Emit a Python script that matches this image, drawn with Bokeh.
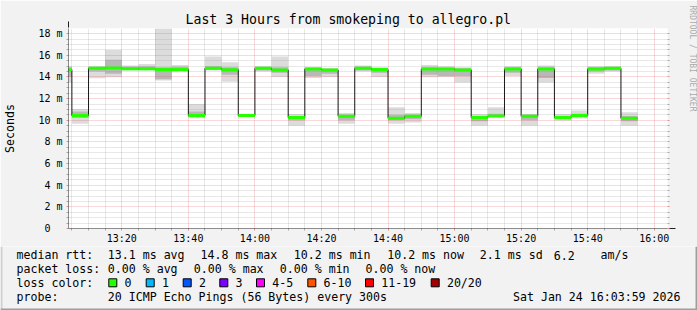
import math
from bokeh.plotting import figure
from bokeh.models import FixedTicker, Range1d, Label, Arrow, NormalHead, LinearAxis, Title
from bokeh.layouts import column
from bokeh.embed import file_html
from bokeh.resources import INLINE

MONO = "DejaVu Sans Mono"

# ---------------- data ----------------
slot_start = ["13:00", "13:05", "13:10", "13:15", "13:20", "13:25", "13:30", "13:35",
              "13:40", "13:45", "13:50", "13:55", "14:00", "14:05", "14:10", "14:15",
              "14:20", "14:25", "14:30", "14:35", "14:40", "14:45", "14:50", "14:55",
              "15:00", "15:05", "15:10", "15:15", "15:20", "15:25", "15:30", "15:35",
              "15:40", "15:45", "15:50"]
median_ms = [14.68, 10.43, 14.80, 14.83, 14.77, 14.77, 14.70, 14.70,
             10.43, 14.80, 14.68, 10.43, 14.80, 14.65, 10.25, 14.74,
             14.65, 10.37, 14.80, 14.70, 10.18, 10.37, 14.74, 14.74,
             14.65, 10.25, 10.40, 14.74, 10.37, 14.74, 10.25, 10.43,
             14.74, 14.80, 10.18]
smoke_lo = [13.50, 9.67, 13.88, 13.97, 14.60, 14.60, 13.67, 14.50,
            10.20, 14.60, 13.57, 10.35, 14.50, 14.00, 9.50, 13.90,
            14.00, 9.67, 14.50, 14.00, 9.67, 9.80, 13.97, 14.00,
            13.50, 9.50, 10.28, 14.10, 9.50, 13.50, 9.97, 10.18,
            14.30, 14.50, 9.50]
smoke_hi = [15.00, 11.05, 14.98, 16.50, 15.05, 15.20, 18.50, 15.10,
            11.50, 15.90, 15.35, 10.55, 15.00, 15.90, 10.58, 14.90,
            14.80, 10.68, 15.05, 14.90, 11.20, 10.68, 15.10, 15.00,
            14.90, 10.58, 11.20, 15.00, 10.58, 15.05, 10.58, 10.90,
            15.00, 15.00, 10.74]
core_lo = [14.00, 10.20, 14.50, 14.30, 14.65, 14.65, 13.80, 14.55,
           10.30, 14.65, 14.20, 10.38, 14.60, 14.40, 10.00, 14.10,
           14.30, 10.00, 14.60, 14.40, 10.00, 10.10, 14.20, 14.10,
           14.10, 9.90, 10.30, 14.40, 10.00, 13.90, 10.10, 10.30,
           14.50, 14.60, 9.90]
core_hi = [14.90, 10.80, 14.95, 15.60, 14.95, 15.00, 14.90, 14.95,
           10.80, 15.00, 14.90, 10.50, 14.90, 14.90, 10.40, 14.85,
           14.75, 10.50, 14.95, 14.80, 10.50, 10.50, 14.90, 14.85,
           14.80, 10.40, 10.60, 14.90, 10.50, 14.90, 10.40, 10.60,
           14.90, 14.90, 10.40]
loss_count = [0, 0, 0, 0, 0, 0, 0, 0, 0, 0, 0, 0, 0, 0, 0, 0, 0, 0,
              0, 0, 0, 0, 0, 0, 0, 0, 0, 0, 0, 0, 0, 0, 0, 0, 0]
step_minutes = 5

x_start_time = "13:03:59"
x_end_time = "16:03:59"
y_max_ms = 18.48

y_major_ticks = [0, 2, 4, 6, 8, 10, 12, 14, 16, 18]
y_tick_labels = ["0\u00a0\u00a0", "2 m", "4 m", "6 m", "8 m", "10 m", "12 m", "14 m", "16 m", "18 m"]
y_minor_step = 0.5
x_tick_labels = ["13:20", "13:40", "14:00", "14:20", "14:40", "15:00", "15:20", "15:40", "16:00"]
x_minor_start = "13:05"
x_minor_end = "16:00"

title_text = "Last 3 Hours from smokeping to allegro.pl"
unit_text = "Seconds"
watermark_text = "RRDTOOL / TOBI OETIKER"

rtt_label = "median rtt:"
rtt_stats = ["13.1 ms avg", "14.8 ms max", "10.2 ms min", "10.2 ms now", "2.1 ms sd", "6.2", "am/s"]
loss_label = "packet loss:"
loss_stats = ["0.00 % avg", "0.00 % max", "0.00 % min", "0.00 % now"]
color_label = "loss color:"
loss_names = ["0", "1", "2", "3", "4-5", "6-10", "11-19", "20/20"]
loss_colors = ["#26ff00", "#00b8ff", "#0059ff", "#7e00ff", "#ff00ff", "#ff5500", "#ff0000", "#a10000"]
probe_label = "probe:"
probe_text = "20 ICMP Echo Pings (56 Bytes) every 300s"
date_text = "Sat Jan 24 16:03:59 2026"


def to_min(s):
    parts = [int(v) for v in s.split(":")]
    m = parts[0] * 60 + parts[1]
    if len(parts) > 2:
        m += parts[2] / 60.0
    return m


x0 = to_min(x_start_time)
x1 = to_min(x_end_time)
starts = [to_min(s) for s in slot_start]
ends = [s + step_minutes for s in starts]
x_major = [to_min(s) for s in x_tick_labels]
x_minor = [m for m in range(to_min(x_minor_start), to_min(x_minor_end) + 1, step_minutes) if m not in x_major]
n_minor = int(round(y_major_ticks[-1] / y_minor_step))
y_minor = [i * y_minor_step for i in range(n_minor + 1) if (i * y_minor_step) not in y_major_ticks]

# ---------------- layout constants ----------------
W, H = 697, 310
FL, FT, FW, FH = 67, 28, 600, 200
FB = FT + FH
SPLIT = 246          # main chart canvas height; legend strip below
BG = "#f2f2f2"
SHADE_A = "#cfcfcf"
SHADE_B = "#9e9e9e"

p = figure(width=W, height=SPLIT, output_backend="svg", toolbar_location=None,
           x_range=Range1d(x0, x1), y_range=Range1d(0, y_max_ms),
           min_border_left=FL, min_border_right=W - FL - FW,
           min_border_top=FT, min_border_bottom=SPLIT - FB,
           background_fill_color="white", border_fill_color=BG,
           outline_line_color=None, title=None)

# smoke
p.quad(left=starts, right=ends, bottom=smoke_lo, top=smoke_hi,
       fill_color="#dcdcdc", line_color=None, level="image")
p.quad(left=starts, right=ends, bottom=core_lo, top=core_hi,
       fill_color="#b8b8b8", line_color=None, level="image")

# median step line + loss coloured segments
p.step(starts + [ends[-1]], median_ms + [median_ms[-1]], mode="after",
       line_color="#1a1a1a", line_width=1)
seg_colors = [loss_colors[0] if c == 0 else loss_colors[-1] for c in loss_count]
p.segment(x0=starts, x1=ends, y0=median_ms, y1=median_ms,
          line_color=seg_colors, line_width=3)

# grids
xt = FixedTicker(ticks=x_major, minor_ticks=x_minor)
yt = FixedTicker(ticks=y_major_ticks, minor_ticks=y_minor)
for g, t in ((p.xgrid, xt), (p.ygrid, yt)):
    g.ticker = t
    g.grid_line_color = "#de4f4f"
    g.grid_line_alpha = 0.45
    g.grid_line_dash = "1 1"
    g.minor_grid_line_color = "#8f8f8f"
    g.minor_grid_line_alpha = 0.4
    g.minor_grid_line_dash = "1 1"


def style_axis(ax, ticker):
    ax.ticker = ticker
    ax.axis_line_color = None
    ax.major_tick_in = 0
    ax.major_tick_out = 2
    ax.minor_tick_in = 0
    ax.minor_tick_out = 2
    ax.major_tick_line_color = "#de4f4f"
    ax.major_tick_line_alpha = 0.6
    ax.minor_tick_line_color = "#8f8f8f"
    ax.minor_tick_line_alpha = 0.75
    ax.major_label_text_font = MONO
    ax.major_label_text_font_size = "10px"
    ax.major_label_text_color = "black"


ya = p.yaxis[0]
style_axis(ya, yt)
ya.major_label_overrides = {t: l for t, l in zip(y_major_ticks, y_tick_labels)}
ya.major_label_standoff = 4
ya.axis_label = unit_text
ya.axis_label_text_font = MONO
ya.axis_label_text_font_size = "11.6px"
ya.axis_label_text_font_style = "normal"
ya.axis_label_text_color = "black"
ya.axis_label_standoff = 18

xa = p.xaxis[0]
style_axis(xa, xt)
xa.major_label_overrides = {t: l for t, l in zip(x_major, x_tick_labels)}
xa.major_label_standoff = 2

ra = LinearAxis()
style_axis(ra, FixedTicker(ticks=y_major_ticks, minor_ticks=y_minor))
ra.major_label_overrides = {t: "\u00a0" for t in y_major_ticks}
ra.major_label_standoff = 8
p.add_layout(ra, "right")

p.add_layout(Title(text=title_text, text_font=MONO, text_font_size="13.2px",
                   text_font_style="normal", text_color="black", align="left",
                   offset=184 - FL, vertical_align="middle", standoff=2), "above")
p.add_layout(Title(text=watermark_text, text_font=MONO, text_font_size="8px",
                   text_font_style="normal", text_color="#aaaaaa", align="left",
                   offset=5 - FT, vertical_align="middle", standoff=0), "right")


def sx(cx):
    return cx - FL


def sy(cy):
    return FB - cy


def line(cxa, cya, cxb, cyb, color, width, head=None):
    p.add_layout(Arrow(x_start=sx(cxa), y_start=sy(cya), x_end=sx(cxb), y_end=sy(cyb),
                       start_units="screen", end_units="screen", start=None, end=head,
                       line_color=color, line_width=width))


# 3D frame parts of the upper canvas
line(0, 1, W, 1, SHADE_A, 2)
line(1, 0, 1, SPLIT, SHADE_A, 2)
line(W - 1, 2, W - 1, SPLIT, SHADE_B, 2)

# axes with arrows
arrow_col = "#801f1f"
line(FL - 4, FB, FL + FW + 7, FB, "#1f1f1f", 1,
     NormalHead(size=6, fill_color=arrow_col, line_color=arrow_col))
line(FL, FB + 4, FL, FT - 7, "#1f1f1f", 1,
     NormalHead(size=6, fill_color=arrow_col, line_color=arrow_col))

# ---------------- legend strip ----------------
lg = figure(width=W, height=H - SPLIT, output_backend="svg", toolbar_location=None,
            x_range=Range1d(0, W), y_range=Range1d(H, SPLIT),
            min_border=0, min_border_left=0, min_border_right=0,
            min_border_top=0, min_border_bottom=0,
            background_fill_color=BG, border_fill_color=BG,
            outline_line_color=None, title=None)
lg.axis.visible = False
lg.grid.visible = False
for fig in (p, lg):
    try:
        fig.frame_align = False
    except AttributeError:
        pass

lg.quad(left=[0, W - 2, 0], right=[2, W, W], bottom=[SPLIT, SPLIT, H - 2], top=[H, H, H],
        fill_color=[SHADE_A, SHADE_B, SHADE_B], line_color=None)


def text(cx, cy, s, align="left"):
    lg.add_layout(Label(x=cx, y=cy, text=s, text_font=MONO, text_font_size="11.6px",
                        text_align=align, text_baseline="middle", text_color="black"))


rows = [254.7, 268.3, 282.3, 296.3]
text(16, rows[0], rtt_label)
for xx, s in zip([107.3, 200, 293.3, 386.7, 479.3, 553.3, 600], rtt_stats):
    text(xx, rows[0], s)
text(16, rows[1], loss_label)
for xx, s in zip([107.3, 193.3, 279.3, 365], loss_stats):
    text(xx, rows[1], s)
text(16, rows[2], color_label)
box_x = [108.3, 145.7, 182.7, 219.3, 256, 307.3, 365, 430.7]
lg.rect(x=[b + 4 for b in box_x], y=[rows[2]] * len(box_x), width=8, height=8,
        fill_color=loss_colors, line_color="black", line_width=1)
for bx, name in zip(box_x, loss_names):
    text(bx + 15.7, rows[2], name)
text(16, rows[3], probe_label)
text(107.3, rows[3], probe_text)
text(680, rows[3], date_text, align="right")

open("out.html", "w").write(file_html(column(p, lg, spacing=0), INLINE))
